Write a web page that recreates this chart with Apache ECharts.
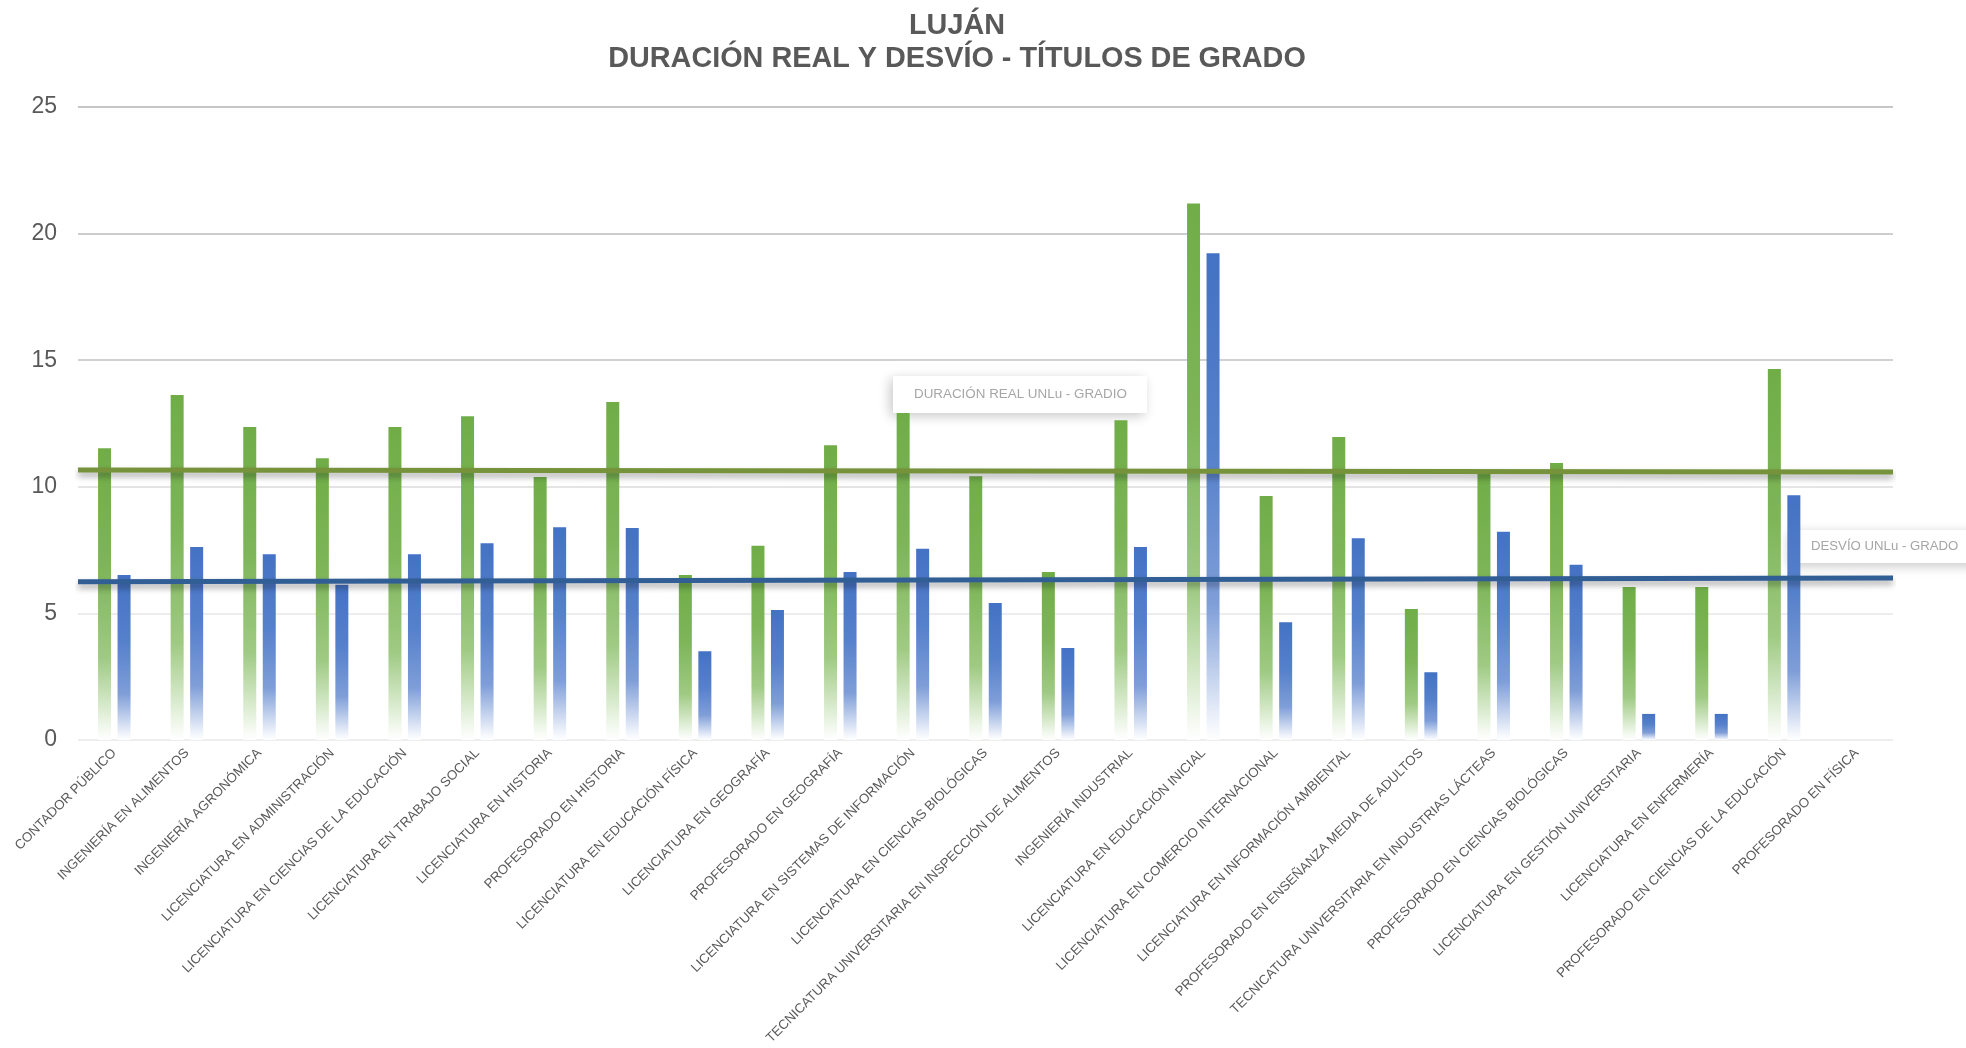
<!DOCTYPE html>
<html>
<head>
<meta charset="utf-8">
<script src="https://cdn.jsdelivr.net/npm/echarts@6/dist/echarts.min.js"></script>
<style>
  html, body { margin: 0; padding: 0; background: #ffffff; }
  #chart { width: 1966px; height: 1048px; }
</style>
</head>
<body>
<div id="chart"></div>
<script>
// Carreras de grado - sede Luján
const categories = [
  'CONTADOR PÚBLICO',
  'INGENIERÍA EN ALIMENTOS',
  'INGENIERÍA AGRONÓMICA',
  'LICENCIATURA EN ADMINISTRACIÓN',
  'LICENCIATURA EN CIENCIAS DE LA EDUCACIÓN',
  'LICENCIATURA EN TRABAJO SOCIAL',
  'LICENCIATURA EN HISTORIA',
  'PROFESORADO EN HISTORIA',
  'LICENCIATURA EN EDUCACIÓN FÍSICA',
  'LICENCIATURA EN GEOGRAFÍA',
  'PROFESORADO EN GEOGRAFÍA',
  'LICENCIATURA EN SISTEMAS DE INFORMACIÓN',
  'LICENCIATURA EN CIENCIAS BIOLÓGICAS',
  'TECNICATURA UNIVERSITARIA EN INSPECCIÓN DE ALIMENTOS',
  'INGENIERÍA INDUSTRIAL',
  'LICENCIATURA EN EDUCACIÓN INICIAL',
  'LICENCIATURA EN COMERCIO INTERNACIONAL',
  'LICENCIATURA EN INFORMACIÓN AMBIENTAL',
  'PROFESORADO EN ENSEÑANZA MEDIA DE ADULTOS',
  'TECNICATURA UNIVERSITARIA EN INDUSTRIAS LÁCTEAS',
  'PROFESORADO EN CIENCIAS BIOLÓGICAS',
  'LICENCIATURA EN GESTIÓN UNIVERSITARIA',
  'LICENCIATURA EN ENFERMERÍA',
  'PROFESORADO EN CIENCIAS DE LA EDUCACIÓN',
  'PROFESORADO EN FÍSICA'
];

// Duración real (años)
const duracionReal = [
  11.52, 13.63, 12.36, 11.13, 12.36, 12.79, 10.39, 13.35, 6.52, 7.67,
  11.64, 12.91, 10.42, 6.64, 12.63, 21.19, 9.64, 11.97, 5.17, 10.6,
  10.94, 6.04, 6.04, 14.65, null
];

// Desvío respecto de la duración teórica (años)
const desvio = [
  6.52, 7.62, 7.34, 6.13, 7.34, 7.77, 8.40, 8.37, 3.51, 5.13,
  6.64, 7.55, 5.41, 3.63, 7.62, 19.22, 4.65, 7.97, 2.68, 8.22,
  6.92, 1.03, 1.03, 9.67, null
];

// Promedios UNLu (inicio y fin de la línea)
const promedioDuracion = [10.66, 10.58];
const promedioDesvio = [6.25, 6.40];

const yMin = 0, yMax = 25, yStep = 5;

const FONT = '"Liberation Sans", Arial, sans-serif';

function fade(top, mid, low, bottom) {
  return new echarts.graphic.LinearGradient(0, 0, 0, 1, [
    { offset: 0, color: top },
    { offset: 0.4, color: mid },
    { offset: 0.72, color: low },
    { offset: 0.9, color: bottom },
    { offset: 1, color: 'rgba(255,255,255,0.9)' }
  ]);
}

const greenBar = fade('#70AD47', '#7DB558', '#9FCA83', '#DDEDD3');
const blueBar = fade('#4472C4', '#5580CB', '#7F9ED8', '#D2DDF2');

const lineShadow = {
  shadowColor: 'rgba(0,0,0,0.35)',
  shadowBlur: 6,
  shadowOffsetX: 0,
  shadowOffsetY: 4
};

const chart = echarts.init(document.getElementById('chart'), null, { renderer: 'canvas' });

chart.setOption({
  animation: false,
  backgroundColor: '#ffffff',
  title: {
    text: 'LUJÁN\nDURACIÓN REAL Y DESVÍO - TÍTULOS DE GRADO',
    left: 952,
    top: 5,
    textAlign: 'center',
    textStyle: {
      fontFamily: FONT,
      fontSize: 28.8,
      fontWeight: 'bold',
      color: '#595959',
      lineHeight: 33
    }
  },
  grid: { left: 78, right: 73, top: 107, bottom: 308, containLabel: false },
  xAxis: [
    {
      type: 'category',
      data: categories,
      axisLine: { show: false },
      axisTick: { show: false },
      axisLabel: {
        interval: 0,
        rotate: 45,
        margin: 11,
        fontFamily: FONT,
        fontSize: 13.3,
        color: '#595959'
      }
    },
    {
      type: 'value',
      min: 0,
      max: 1,
      show: false
    }
  ],
  yAxis: {
    type: 'value',
    min: yMin,
    max: yMax,
    interval: yStep,
    axisLine: { show: false },
    axisTick: { show: false },
    axisLabel: {
      margin: 21,
      fontFamily: FONT,
      fontSize: 23,
      color: '#595959'
    },
    splitLine: {
      lineStyle: {
        width: 2,
        color: ['#EEEEEE', '#EDEDED', '#E4E4E4', '#D2D2D2', '#CDCDCD', '#C6C6C6']
      }
    }
  },
  series: [
    {
      name: 'DURACIÓN REAL',
      type: 'bar',
      data: duracionReal,
      barWidth: 13,
      barGap: '50%',
      itemStyle: { color: greenBar },
      z: 2
    },
    {
      name: 'DESVÍO',
      type: 'bar',
      data: desvio,
      barWidth: 13,
      itemStyle: { color: blueBar },
      z: 2
    },
    {
      name: 'DURACIÓN REAL UNLu - GRADIO',
      type: 'line',
      xAxisIndex: 1,
      data: [[0, promedioDuracion[0]], [1, promedioDuracion[1]]],
      symbol: 'none',
      clip: false,
      lineStyle: Object.assign({ color: '#76933C', width: 5 }, lineShadow),
      z: 4
    },
    {
      name: 'DESVÍO UNLu - GRADO',
      type: 'line',
      xAxisIndex: 1,
      data: [[0, promedioDesvio[0]], [1, promedioDesvio[1]]],
      symbol: 'none',
      clip: false,
      lineStyle: Object.assign({ color: '#325E96', width: 5 }, lineShadow),
      z: 4
    }
  ],
  graphic: [
    {
      type: 'group',
      z: 10,
      children: [
        {
          type: 'rect',
          shape: { x: 893, y: 376, width: 254, height: 37 },
          style: {
            fill: '#ffffff',
            shadowColor: 'rgba(0,0,0,0.22)',
            shadowBlur: 12,
            shadowOffsetX: -3,
            shadowOffsetY: 3
          }
        },
        {
          type: 'text',
          x: 914,
          y: 394,
          style: {
            text: 'DURACIÓN REAL UNLu - GRADIO',
            font: '13.4px "Liberation Sans", Arial, sans-serif',
            fill: '#A6A6A6',
            verticalAlign: 'middle'
          }
        }
      ]
    },
    {
      type: 'group',
      z: 10,
      children: [
        {
          type: 'rect',
          shape: { x: 1792, y: 530, width: 200, height: 33 },
          style: {
            fill: '#ffffff',
            shadowColor: 'rgba(0,0,0,0.22)',
            shadowBlur: 12,
            shadowOffsetX: -3,
            shadowOffsetY: 3
          }
        },
        {
          type: 'text',
          x: 1811,
          y: 546,
          style: {
            text: 'DESVÍO UNLu - GRADO',
            font: '13.2px "Liberation Sans", Arial, sans-serif',
            fill: '#A6A6A6',
            verticalAlign: 'middle'
          }
        }
      ]
    }
  ]
});
</script>
</body>
</html>
